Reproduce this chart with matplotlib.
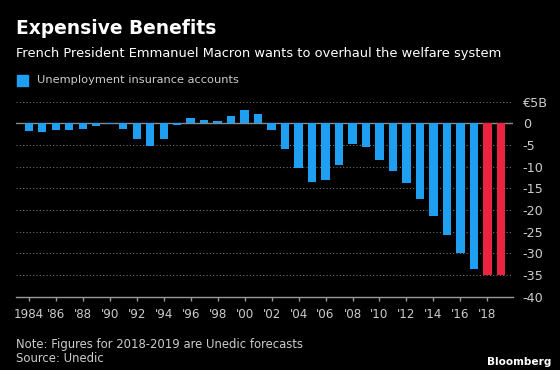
import matplotlib
matplotlib.use('Agg')
import matplotlib.pyplot as plt
import numpy as np

# data (EUR billions)
years = np.arange(1984, 2020)
balance = [-1.7, -2.0, -1.5, -1.5, -1.3, -0.5, -0.15, -1.3, -3.7, -5.2,
           -3.7, -0.3, 1.2, 0.8, 0.6, 1.6, 3.0, 2.2, -1.5, -5.9,
           -10.2, -13.5, -13.1, -9.5, -4.8, -5.4, -8.5, -11.0, -13.8, -17.5,
           -21.4, -25.8, -30.0, -33.6, -35.0, -35.0]
forecast_from = 2018
tick_years = np.arange(1984, 2019, 2)
tick_labels = ['1984'] + ["'%02d" % (y % 100) for y in tick_years[1:]]
y_ticks = np.arange(-40, 6, 5)
y_labels = ['€5B' if v == 5 else str(v) for v in y_ticks]

blue = '#1f9ff2'
red = '#ea2440'
bg = 'black'

plt.rcParams['font.family'] = ['DejaVu Sans']

W, H = 560, 370
fig = plt.figure(figsize=(W / 100, H / 100), dpi=100, facecolor=bg)

# axes box in pixels: x 16..513, y 101.7..296.7
ax = fig.add_axes([16 / W, 1 - 296.7 / H, (513 - 16) / W, (296.7 - 101.7) / H])
ax.set_facecolor(bg)

colors = [red if y >= forecast_from else blue for y in years]
ax.bar(years, balance, width=0.62, color=colors, zorder=3)

ax.set_xlim(1983.05, 2019.9)
ax.set_ylim(-40, 5)

# dotted grid + solid zero line
for v in y_ticks:
    if v == 0:
        ax.axhline(v, color='#8a8a8a', lw=1.0, zorder=2)
    elif v != -40:
        ax.axhline(v, color='#707070', lw=0.8, ls=(0, (1, 2)), zorder=1)

for s in ['top', 'left', 'right']:
    ax.spines[s].set_visible(False)
ax.spines['bottom'].set_color('#9a9a9a')
ax.spines['bottom'].set_linewidth(1.0)

ax.yaxis.tick_right()
ax.set_yticks(y_ticks)
ax.set_yticklabels(y_labels)
ax.tick_params(axis='y', length=0, pad=7, labelsize=9.2, labelcolor='#cccccc')
ax.set_xticks(tick_years)
ax.set_xticklabels(tick_labels)
ax.tick_params(axis='x', length=3, width=1, color='#9a9a9a', pad=5,
               labelsize=8.6, labelcolor='#cccccc')

# header
fig.text(16 / W, 1 - 28 / H, 'Expensive Benefits', color='white',
         fontsize=13.4, fontweight='bold', va='center', ha='left')
fig.text(16 / W, 1 - 53 / H,
         'French President Emmanuel Macron wants to overhaul the welfare system',
         color='white', fontsize=9.4, va='center', ha='left')
fig.patches.append(plt.Rectangle((17 / W, 1 - 86 / H), 11 / W, 11 / H,
                                 transform=fig.transFigure, color=blue))
fig.text(37 / W, 1 - 80 / H, 'Unemployment insurance accounts',
         color='#cccccc', fontsize=8.2, va='center', ha='left')

# footer
fig.text(16 / W, 1 - 344.5 / H, 'Note: Figures for 2018-2019 are Unedic forecasts',
         color='#cccccc', fontsize=8.4, va='center', ha='left')
fig.text(16 / W, 1 - 359 / H, 'Source: Unedic',
         color='#cccccc', fontsize=8.4, va='center', ha='left')
fig.text(551 / W, 1 - 362 / H, 'Bloomberg', color='white',
         fontsize=7.6, fontweight='bold', va='center', ha='right')

fig.savefig('out.png', dpi=100, facecolor=bg)
